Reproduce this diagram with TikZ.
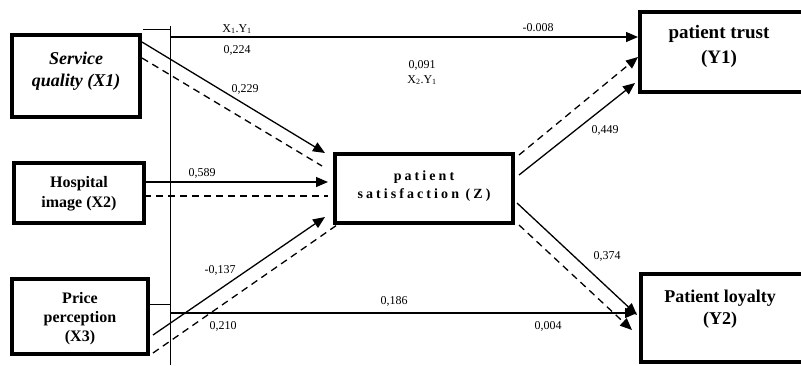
\documentclass[tikz,border=0pt]{standalone}
\usepackage{fontspec}
\setmainfont{Liberation Serif}
\newfontfamily\spacedfont[LetterSpace=22]{Liberation Serif}
\usetikzlibrary{arrows.meta,calc}
\tikzset{
  box/.style={draw, line width=3.5pt, inner sep=0pt, outer sep=0pt},
  lbl/.style={font=\fontsize{12}{14}\selectfont, inner sep=0pt},
  conn/.style={line width=1.3pt},
  dconn/.style={line width=1.3pt, dash pattern=on 7pt off 5pt},
  arr/.style={-{Triangle[length=12pt,width=10pt]}},
  thin/.style={line width=1pt},
}
\begin{document}
\begin{tikzpicture}[x=1pt,y=-1pt]
\useasboundingbox (0,0) rectangle (801,365);
% boxes
\node[box, minimum width=128, minimum height=82] (x1) at (76,76) {};
\node[box, minimum width=130, minimum height=60] (x2) at (79,193) {};
\node[box, minimum width=136, minimum height=75] (x3) at (80,316.5) {};
\node[box, minimum width=178, minimum height=69] (z) at (424,188.5) {};
\node[box, minimum width=166, minimum height=80] (y1) at (723,52) {};
\node[box, minimum width=166, minimum height=88] (y2) at (724,318) {};
% box texts
\node[align=center, font=\fontsize{18}{22}\selectfont\bfseries\itshape] (x1t) at (76,71) {Service\\quality (X1)};
\node[align=center, font=\fontsize{16}{20}\selectfont\bfseries] (x2t) at (79,194) {Hospital\\image (X2)};
\node[align=center, font=\fontsize{16}{19}\selectfont\bfseries] (x3t) at (80,319) {Price\\perception\\(X3)};
\node[align=center, font=\fontsize{14}{18}\selectfont\bfseries\spacedfont] (zt) at (424,186) {patient\\satisfaction (Z)};
\node[align=center, font=\fontsize{19}{25}\selectfont\bfseries] (y1t) at (719,46) {patient trust\\(Y1)};
\node[align=center, font=\fontsize{18}{22}\selectfont\bfseries] (y2t) at (720,309) {Patient loyalty\\(Y2)};
% reference line
\coordinate (vt) at (170,26);
\coordinate (vb) at (170,365);
\draw[thin] (vt) -- (vb);
\coordinate (tk) at (143,29);
\draw[thin] (tk) -- (170,29);
% X1 -> Z
\draw[conn,arr] ($(x1.north east)+(2,7)$) -- ($(z.north west)+(-10,-1)$);
\draw[dconn] ($(x1.north east)+(2,23)$) -- ($(z.north west)+(-13,12)$);
% X2 -> Z
\draw[conn,arr] ($(x2.east)+(0,-11)$) -- ($(z.west)+(-7,-6.5)$);
\draw[dconn] ($(x2.east)+(0,3)$) -- ($(z.west)+(-7,7.5)$);
% X3 -> Z
\draw[conn,arr] ($(x3.east)+(5,18.5)$) -- ($(z.south west)+(-10,-6)$);
\draw[dconn] ($(x3.east)+(5,36.5)$) -- ($(z.south west)+(2,2)$);
% X3 stub and X3 -> Y2
\coordinate (h3) at (170,313);
\draw[thin] ($(x3.east)+(0,-12.5)$) -- (170,304);
\draw[conn,arr] (h3) -- ($(y2.west)+(-4,-5)$);
% X1 -> Y1
\coordinate (h1) at (170,37);
\draw[conn,arr] (h1) -- ($(y1.west)+(-2,-15)$);
% Z -> Y1
\draw[conn,arr] ($(z.east)+(6,-13.5)$) -- ($(y1.west)+(-5,31)$);
\draw[dconn,arr] ($(z.east)+(6,-33.5)$) -- ($(y1.west)+(-2,5)$);
% Z -> Y2
\draw[conn,arr] ($(z.east)+(4,14.5)$) -- ($(y2.west)+(-4,-3)$);
\draw[dconn,arr] ($(z.east)+(6,36.5)$) -- ($(y2.west)+(-9,12)$);
% labels
\node[lbl] (l1) at (237,29) {X\textsubscript{1}.Y\textsubscript{1}};
\node[lbl] (l2) at (237,50) {0,224};
\node[lbl] (l3) at (245,89) {0,229};
\node[lbl] (l4) at (202,173) {0,589};
\node[lbl] (l5) at (538,28) {-0.008};
\node[lbl] (l6) at (422,65) {0,091};
\node[lbl] (l7) at (422,80) {X\textsubscript{2}.Y\textsubscript{1}};
\node[lbl] (l8) at (220,270) {-0,137};
\node[lbl] (l9) at (394,301) {0,186};
\node[lbl] (l10) at (223,326) {0,210};
\node[lbl] (l11) at (548,326) {0,004};
\node[lbl] (l12) at (607,256) {0,374};
\node[lbl] (l13) at (605,130) {0,449};
\end{tikzpicture}
\end{document}
